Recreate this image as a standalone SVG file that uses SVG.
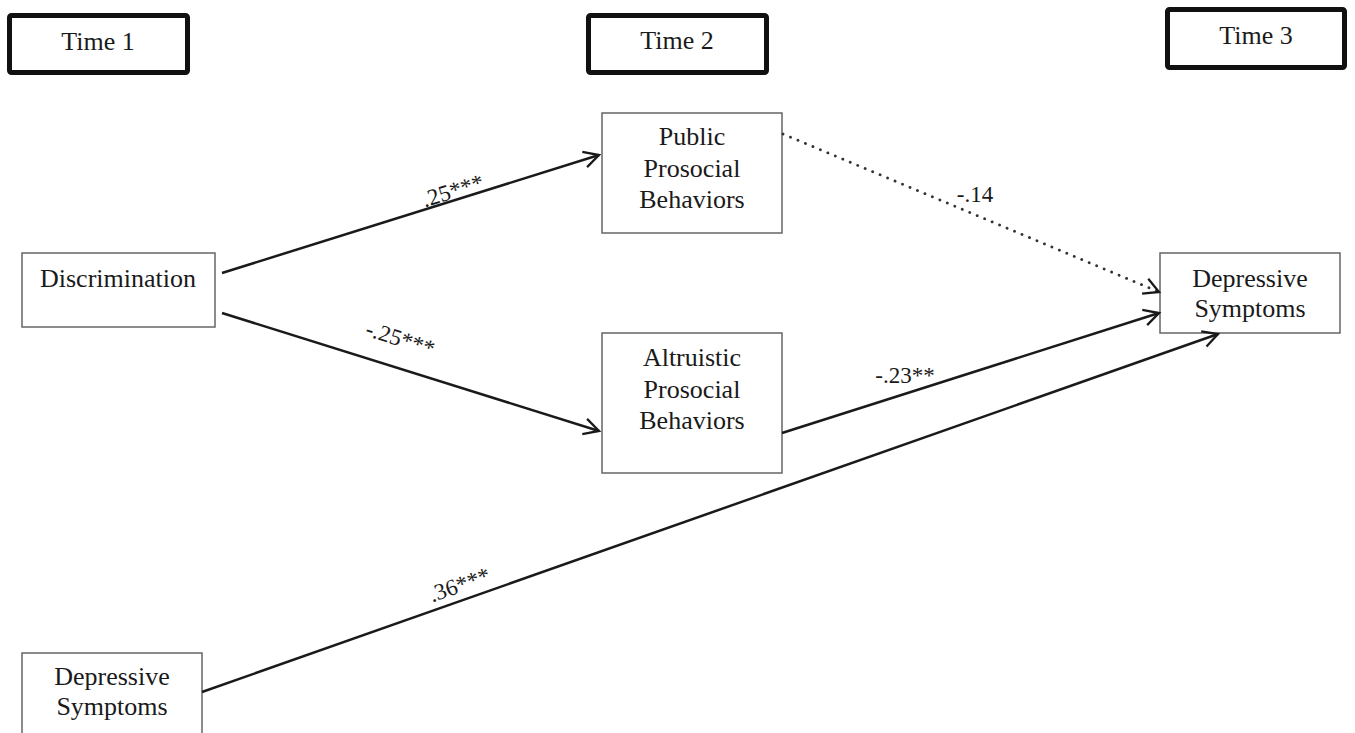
<svg xmlns="http://www.w3.org/2000/svg" width="1355" height="733" viewBox="0 0 1355 733">
<style>
.bg{fill:#fff}
.time{fill:#fff;stroke:#111;stroke-width:5}
.node{fill:#fff;stroke:#666;stroke-width:1.5}
.t{font-family:"Liberation Serif","Times New Roman",serif;fill:#1a1a1a;text-anchor:middle}
.tn{font-size:26px}
.tt{font-size:26px}
.lab{font-size:23px}
.edge{fill:none;stroke:#1a1a1a;stroke-width:2.5;marker-end:url(#arr)}
.dot{fill:none;stroke:#333;stroke-width:2.8;stroke-dasharray:0.1 8;stroke-linecap:round;marker-end:url(#arr)}
</style>
<defs>
<marker id="arr" markerUnits="userSpaceOnUse" markerWidth="20" markerHeight="20" viewBox="-16 -10 18 20" refX="0" refY="0" orient="auto">
<path d="M-15,-8 L0,0 L-15,8" fill="none" stroke="#1a1a1a" stroke-width="2.3" stroke-linejoin="miter"/>
</marker>
</defs>
<rect class="bg" x="0" y="0" width="1355" height="733"/>
<g id="time1"><rect class="time" x="9.5" y="15.5" width="178" height="57" rx="2"/><text class="t tt" x="98" y="50">Time 1</text></g>
<g id="time2"><rect class="time" x="588.5" y="15.5" width="178" height="57" rx="2"/><text class="t tt" x="677" y="49">Time 2</text></g>
<g id="time3"><rect class="time" x="1167.5" y="9.5" width="177" height="58" rx="2"/><text class="t tt" x="1256" y="44">Time 3</text></g>
<g id="discrimination"><rect class="node" x="22" y="253" width="193" height="74"/><text class="t tn" x="118" y="287">Discrimination</text></g>
<g id="public"><rect class="node" x="602" y="113" width="180" height="120"/><text class="t tn" x="692" y="145">Public</text><text class="t tn" x="692" y="177">Prosocial</text><text class="t tn" x="692" y="208">Behaviors</text></g>
<g id="altruistic"><rect class="node" x="602" y="333" width="180" height="140"/><text class="t tn" x="692" y="366">Altruistic</text><text class="t tn" x="692" y="398">Prosocial</text><text class="t tn" x="692" y="429">Behaviors</text></g>
<g id="dep3"><rect class="node" x="1160" y="253" width="180" height="80"/><text class="t tn" x="1250" y="287">Depressive</text><text class="t tn" x="1250" y="317">Symptoms</text></g>
<g id="dep1"><rect class="node" x="22" y="653" width="180" height="90"/><text class="t tn" x="112" y="685">Depressive</text><text class="t tn" x="112" y="715">Symptoms</text></g>
<g id="connectors">
<line class="edge" x1="222" y1="273" x2="599" y2="155"/>
<line class="edge" x1="222" y1="313" x2="599" y2="431"/>
<line class="dot" x1="783" y1="134" x2="1159" y2="292"/>
<line class="edge" x1="782" y1="433" x2="1159" y2="313"/>
<line class="edge" x1="202" y1="692" x2="1218" y2="334"/>
<text class="t lab" transform="translate(455,198) rotate(-17.3)">.25***</text>
<text class="t lab" transform="translate(398,346) rotate(17.6)">-.25***</text>
<text class="t lab" x="975" y="202">-.14</text>
<text class="t lab" x="905" y="383">-.23**</text>
<text class="t lab" transform="translate(462,592) rotate(-19.4)">.36***</text>
</g>
</svg>
